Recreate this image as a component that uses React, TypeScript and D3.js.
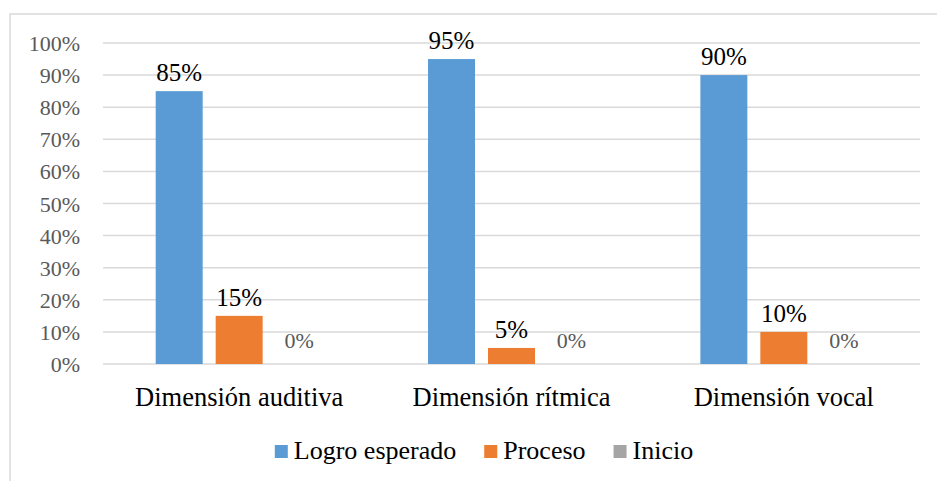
import { useMemo } from "react";
import * as d3 from "d3";

const WIDTH = 937;
const HEIGHT = 481;
const MARGIN = { top: 43, right: 17, bottom: 115, left: 103 };
const FONT = "Times New Roman, Liberation Serif, serif";

const categories = ["Dimensión auditiva", "Dimensión rítmica", "Dimensión vocal"];
const seriesNames = ["Logro esperado", "Proceso", "Inicio"];
const seriesColors = ["#5B9BD5", "#ED7D31", "#A5A5A5"];
const logroValues = [0.85, 0.95, 0.9];
const procesoValues = [0.15, 0.05, 0.1];
const inicioValues = [0, 0, 0];
const yTicks = [0, 0.1, 0.2, 0.3, 0.4, 0.5, 0.6, 0.7, 0.8, 0.9, 1];

const seriesValues = [logroValues, procesoValues, inicioValues];

const measure = (text: string, font: string) => {
  const ctx = document.createElement("canvas").getContext("2d");
  if (!ctx) return text.length * 12;
  ctx.font = font;
  return ctx.measureText(text).width;
};

export default function App() {
  const x0 = useMemo(
    () =>
      d3
        .scaleBand<string>()
        .domain(categories)
        .range([MARGIN.left, WIDTH - MARGIN.right])
        .paddingInner(0.387)
        .paddingOuter(0.1935),
    []
  );

  const x1 = useMemo(
    () =>
      d3
        .scaleBand<string>()
        .domain(seriesNames)
        .range([0, x0.bandwidth()])
        .paddingInner(0.2167)
        .paddingOuter(0),
    [x0]
  );

  const y = useMemo(
    () =>
      d3
        .scaleLinear()
        .domain([0, 1])
        .range([HEIGHT - MARGIN.bottom - 2, MARGIN.top]),
    []
  );

  const pct = d3.format(".0%");

  // legend layout, centred like the original
  const legendItems = useMemo(() => {
    const font = `26px ${FONT}`;
    const sq = 13;
    const gapText = 6;
    const gapItem = 28;
    const widths = seriesNames.map((s) => sq + gapText + measure(s, font));
    const total = d3.sum(widths) + gapItem * (seriesNames.length - 1);
    let cx = 484 - total / 2;
    return seriesNames.map((s, i) => {
      const item = { name: s, color: seriesColors[i], x: cx };
      cx += widths[i] + gapItem;
      return item;
    });
  }, []);

  return (
    <div style={{ position: "absolute", left: 0, top: 0 }}>
      <svg
        width={WIDTH}
        height={HEIGHT}
        style={{ display: "block", background: "#fff", fontFamily: FONT }}
      >
        {/* chart frame (cropped on the right and bottom) */}
        <rect
          x={10}
          y={14}
          width={WIDTH + 20}
          height={HEIGHT + 20}
          fill="none"
          stroke="#d9d9d9"
          strokeWidth={1.5}
        />

        {/* Gridlines */}
        {yTicks.map((t) => (
          <line
            key={t}
            x1={MARGIN.left}
            x2={WIDTH - MARGIN.right}
            y1={y(t)}
            y2={y(t)}
            stroke="#d9d9d9"
            strokeWidth={1.5}
          />
        ))}

        {/* Y tick labels */}
        {yTicks.map((t) => (
          <text key={t} x={80} y={y(t) + 8} textAnchor="end" fontSize={22} fill="#595959">
            {pct(t)}
          </text>
        ))}

        {/* Bars */}
        {categories.map((c, ci) => (
          <g key={c} transform={`translate(${x0(c)},0)`}>
            {seriesNames.map((s, si) => {
              const v = seriesValues[si][ci];
              const bx = x1(s) ?? 0;
              return (
                <rect
                  key={s}
                  x={bx}
                  y={y(v)}
                  width={x1.bandwidth()}
                  height={y(0) - y(v)}
                  fill={seriesColors[si]}
                />
              );
            })}
            {seriesNames.map((s, si) => {
              const v = seriesValues[si][ci];
              const cx = (x1(s) ?? 0) + x1.bandwidth() / 2;
              const isZero = v === 0;
              return (
                <text
                  key={s}
                  x={cx}
                  y={isZero ? y(v) - 16 : y(v) - 10}
                  textAnchor="middle"
                  fontSize={isZero ? 22 : 25}
                  fill={isZero ? "#595959" : "#000"}
                >
                  {pct(v)}
                </text>
              );
            })}
          </g>
        ))}

        {/* Category labels */}
        {categories.map((c) => (
          <text
            key={c}
            x={(x0(c) ?? 0) + x0.bandwidth() / 2}
            y={406}
            textAnchor="middle"
            fontSize={26.5}
            fill="#000"
          >
            {c}
          </text>
        ))}

        {/* Legend */}
        {legendItems.map((it) => (
          <g key={it.name}>
            <rect x={it.x} y={445} width={13} height={13} fill={it.color} />
            <text x={it.x + 19} y={459} fontSize={26} fill="#000">
              {it.name}
            </text>
          </g>
        ))}
      </svg>
    </div>
  );
}
